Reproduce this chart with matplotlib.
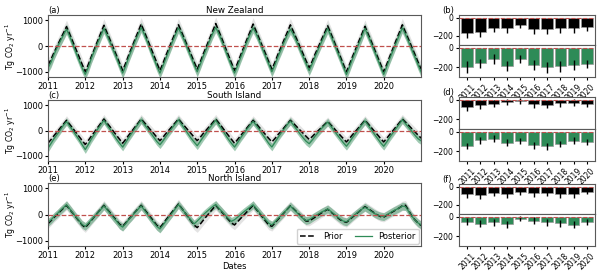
import matplotlib
matplotlib.use("Agg")
import matplotlib.pyplot as plt
import numpy as np
import pandas as pd
import matplotlib.dates as mdates

plt.rcParams['font.family'] = ['DejaVu Sans']
plt.rcParams['font.size'] = 6

# ---------------- data ----------------
dates = pd.date_range('2011-01-01', periods=121, freq='MS')

nz_prior = [
    -750, -500, -250, 0, 250, 500, 750, 460, 165, -125, -415, -710,
    -1000, -700, -400, -100, 200, 500, 800, 510, 215, -75, -365, -660,
    -950, -650, -350, -50, 250, 550, 850, 550, 250, -50, -350, -650,
    -950, -655, -360, -65, 230, 525, 820, 535, 245, -40, -325, -615,
    -900, -605, -310, -15, 280, 575, 870, 565, 265, -40, -345, -645,
    -950, -650, -350, -50, 250, 550, 850, 560, 265, -25, -315, -610,
    -900, -615, -325, -40, 245, 535, 820, 540, 265, -15, -295, -570,
    -850, -580, -305, -35, 240, 510, 780, 485, 185, -110, -405, -705,
    -1000, -705, -415, -120, 170, 465, 760, 465, 175, -120, -415, -705,
    -1000, -695, -395, -90, 215, 515, 820, 535, 245, -40, -325, -615,
    -900]
nz_post = [
    -850, -620, -330, -60, 180, 420, 650, 380, 60, -250, -560, -850,
    -1100, -820, -470, -170, 120, 400, 680, 420, 130, -160, -450, -760,
    -1050, -760, -440, -130, 170, 450, 720, 450, 150, -170, -470, -780,
    -1050, -760, -470, -160, 140, 430, 700, 450, 170, -130, -420, -720,
    -1000, -700, -400, -110, 190, 480, 720, 470, 170, -140, -460, -760,
    -1050, -760, -450, -140, 160, 450, 700, 470, 180, -110, -410, -700,
    -1000, -720, -420, -140, 150, 430, 650, 440, 170, -120, -400, -680,
    -950, -680, -400, -120, 150, 420, 680, 400, 110, -190, -490, -790,
    -1100, -800, -500, -210, 80, 370, 680, 390, 100, -200, -500, -800,
    -1100, -790, -480, -180, 120, 420, 700, 450, 160, -130, -420, -720,
    -1000]

si_prior = [
    -500, -350, -200, -50, 100, 250, 400, 240, 85, -75, -235, -390,
    -550, -385, -215, -50, 115, 285, 450, 290, 135, -25, -185, -340,
    -500, -340, -185, -25, 135, 290, 450, 310, 165, 25, -115, -260,
    -400, -260, -115, 25, 165, 310, 450, 300, 165, 25, -115, -260,
    -400, -260, -115, 25, 165, 310, 450, 290, 135, -25, -185, -340,
    -500, -350, -200, -50, 100, 250, 400, 260, 115, -25, -165, -310,
    -450, -310, -165, -25, 115, 260, 400, 275, 150, 25, -100, -225,
    -350, -235, -115, 0, 115, 235, 350, 215, 85, -50, -185, -315,
    -450, -310, -165, -25, 115, 260, 400, 260, 115, -25, -165, -310,
    -450, -300, -150, 0, 150, 300, 450, 325, 200, 75, -50, -175,
    -300]
si_post = [
    -700, -500, -320, -150, 20, 200, 350, 170, 0, -180, -360, -560,
    -750, -540, -330, -140, 50, 230, 400, 220, 40, -150, -340, -500,
    -650, -460, -280, -100, 80, 250, 420, 240, 80, -90, -260, -430,
    -560, -400, -230, -60, 100, 260, 420, 240, 60, -120, -300, -450,
    -600, -420, -250, -80, 90, 250, 400, 220, 40, -150, -340, -500,
    -650, -470, -290, -120, 50, 210, 360, 200, 30, -150, -330, -510,
    -650, -460, -280, -100, 60, 230, 370, 210, 40, -120, -280, -420,
    -520, -370, -220, -70, 70, 200, 330, 170, 0, -160, -320, -480,
    -620, -450, -280, -110, 60, 220, 380, 210, 30, -140, -310, -480,
    -620, -440, -260, -90, 80, 250, 420, 270, 120, -30, -180, -320,
    -400]

ni_prior = [
    -350, -230, -110, 0, 120, 240, 350, 200, 50, -100, -250, -400,
    -500, -360, -220, -75, 65, 210, 350, 205, 65, -80, -220, -365,
    -450, -315, -180, -50, 85, 220, 350, 200, 45, -105, -255, -410,
    -500, -350, -200, -50, 100, 250, 400, 240, 80, -80, -240, -400,
    -500, -360, -220, -75, 65, 210, 350, 215, 85, -50, -185, -315,
    -400, -275, -150, -25, 100, 225, 350, 200, 50, -100, -250, -400,
    -450, -320, -190, -60, 70, 200, 330, 215, 100, -15, -135, -250,
    -250, -170, -100, -20, 60, 130, 200, 100, 0, -100, -200, -260,
    -300, -200, -100, 0, 100, 200, 300, 220, 140, 60, -20, -80,
    -100, -30, 40, 110, 180, 250, 330, 350, 150, -50, -200, -320,
    -420]
ni_post = [
    -300, -200, -80, 30, 150, 260, 370, 220, 60, -90, -230, -380,
    -450, -330, -200, -70, 60, 190, 330, 190, 40, -110, -250, -400,
    -480, -340, -200, -70, 70, 200, 330, 170, 10, -150, -300, -450,
    -550, -400, -250, -90, 60, 220, 380, 230, 80, -70, -220, -360,
    -250, -130, -10, 100, 200, 300, 380, 240, 110, -20, -150, -260,
    -200, -100, 0, 100, 190, 280, 370, 220, 80, -60, -200, -330,
    -400, -280, -160, -40, 80, 200, 320, 200, 80, -40, -150, -230,
    -200, -120, -50, 20, 90, 150, 210, 120, 20, -80, -170, -250,
    -280, -180, -80, 20, 110, 200, 280, 200, 120, 40, -20, -60,
    -80, -10, 60, 130, 190, 250, 320, 300, 120, -60, -200, -320,
    -400]

# uncertainty half-widths (Tg CO2/yr)
unc_prior = {'nz': 250, 'si': 180, 'ni': 180}
unc_post = {'nz': 200, 'si': 150, 'ni': 150}

years = ['2011', '2012', '2013', '2014', '2015', '2016', '2017', '2018', '2019', '2020']

nz_bar_prior = [-165, -155, -110, -115, -75, -120, -120, -115, -115, -100]
nz_bar_prior_err = [60, 55, 45, 50, 35, 55, 55, 50, 50, 45]
nz_bar_post = [-195, -160, -115, -185, -115, -175, -200, -190, -175, -165]
nz_bar_post_err = [60, 50, 55, 50, 45, 55, 55, 55, 50, 45]

si_bar_prior = [-70, -55, -40, -20, -10, -45, -50, -35, -30, -40]
si_bar_prior_err = [40, 35, 35, 30, 30, 35, 35, 35, 35, 30]
si_bar_post = [-145, -85, -70, -110, -90, -140, -150, -125, -90, -100]
si_bar_post_err = [35, 35, 35, 35, 30, 40, 35, 35, 35, 30]

ni_bar_prior = [-85, -90, -65, -80, -60, -70, -70, -80, -85, -55]
ni_bar_prior_err = [40, 40, 35, 40, 35, 40, 35, 40, 40, 30]
ni_bar_post = [-50, -70, -55, -75, -20, -40, -55, -65, -80, -55]
ni_bar_post_err = [35, 35, 35, 35, 25, 35, 35, 35, 35, 30]

# ---------------- plot ----------------
GREEN = '#2e8b57'
RED = '#c0504d'
W, H = 600, 272
fig = plt.figure(figsize=(6.0, 2.72), dpi=100)

def rect(x0, top, x1, bottom):
    return [x0 / W, 1 - bottom / H, (x1 - x0) / W, (bottom - top) / H]

left_specs = [
    ('(a)', 'New Zealand', nz_prior, nz_post, 'nz', (15, 77)),
    ('(c)', 'South Island', si_prior, si_post, 'si', (100, 161)),
    ('(e)', 'North Island', ni_prior, ni_post, 'ni', (183, 246)),
]

for i, (lab, title, pr, po, key, (t, b)) in enumerate(left_specs):
    ax = fig.add_axes(rect(48, t, 421, b))
    pr = np.array(pr, float)
    po = np.array(po, float)
    ax.fill_between(dates, pr - unc_prior[key], pr + unc_prior[key],
                    color='0.82', alpha=0.6, lw=0)
    ax.fill_between(dates, po - unc_post[key], po + unc_post[key],
                    color=GREEN, alpha=0.45, lw=0)
    l1, = ax.plot(dates, pr, color='black', ls='--', lw=1.1, label='Prior')
    l2, = ax.plot(dates, po, color=GREEN, lw=0.9, label='Posterior')
    ax.axhline(0, color=RED, ls='--', lw=0.9)
    ax.set_ylim(-1200, 1200)
    ax.set_yticks([-1000, 0, 1000])
    ax.set_xlim(pd.Timestamp('2011-01-01'), pd.Timestamp('2020-12-31'))
    ax.xaxis.set_major_locator(mdates.YearLocator())
    ax.xaxis.set_major_formatter(mdates.DateFormatter('%Y'))
    ax.set_title(lab, loc='left', fontsize=6, pad=1.0)
    ax.set_title(title, loc='center', fontsize=6.3, pad=1.0)
    ax.set_ylabel('Tg CO$_2$ yr$^{-1}$', fontsize=5.6)
    ax.yaxis.set_label_coords(-0.08, 0.5)
    ax.tick_params(labelsize=6, pad=1.2, length=2.5)
    for s in ax.spines.values():
        s.set_color('0.35')
    if i == 2:
        ax.set_xlabel('Dates', fontsize=6, labelpad=1)
        ax.legend(handles=[l1, l2], loc='lower right', ncol=2, fontsize=6,
                  handlelength=2.0, borderpad=0.35, columnspacing=1.5,
                  borderaxespad=0.3, framealpha=0.9)

right_specs = [
    ('(b)', nz_bar_prior, nz_bar_prior_err, nz_bar_post, nz_bar_post_err, (15, 45, 77)),
    ('(d)', si_bar_prior, si_bar_prior_err, si_bar_post, si_bar_post_err, (97, 129, 161)),
    ('(f)', ni_bar_prior, ni_bar_prior_err, ni_bar_post, ni_bar_post_err, (184, 214, 246)),
]

x = np.arange(len(years))
for lab, bp, bpe, bq, bqe, (t, m, b) in right_specs:
    ax1 = fig.add_axes(rect(459, t, 595, m))
    ax2 = fig.add_axes(rect(459, m, 595, b), sharex=ax1)
    ax1.bar(x, bp, width=0.85, color='black', edgecolor='0.6', lw=0.5,
            yerr=bpe, error_kw=dict(ecolor='black', elinewidth=1.0, capsize=0))
    ax2.bar(x, bq, width=0.85, color=GREEN, edgecolor='0.6', lw=0.5,
            yerr=bqe, error_kw=dict(ecolor='black', elinewidth=1.0, capsize=0))
    for ax in (ax1, ax2):
        ax.axhline(0, color=RED, ls='--', lw=0.8)
        ax.set_ylim(-300, 30)
        ax.set_yticks([-200, 0])
        ax.tick_params(labelsize=5.5, pad=1.5, length=2.5)
        for s in ax.spines.values():
            s.set_color('0.35')
    ax1.set_xlim(-0.6, 9.6)
    ax1.tick_params(axis='x', labelbottom=False, length=0)
    ax2.set_xticks(x)
    ax2.set_xticklabels(years, rotation=45, ha='center', fontsize=5.5)
    ax1.set_title(lab, loc='left', fontsize=6, pad=1.5, x=-0.12)

fig.savefig('out.png', dpi=100)
